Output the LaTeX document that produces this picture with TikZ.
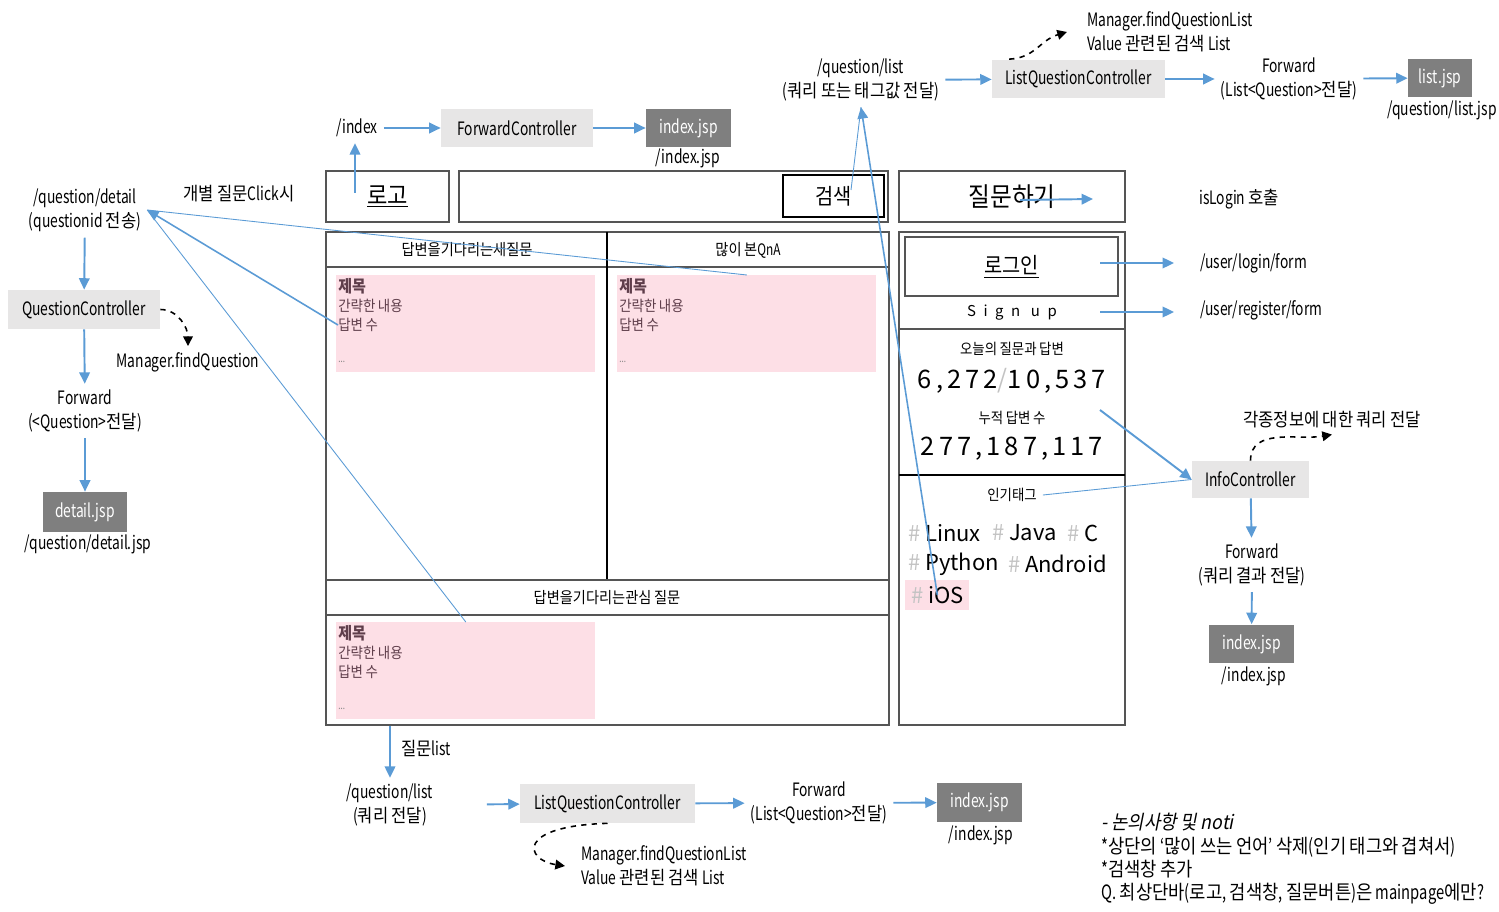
\documentclass[tikz,border=0pt]{standalone}
\usepackage{fontspec}
\setmainfont{Noto Sans CJK KR}[FakeStretch=0.75]
\newfontfamily\plainfont{Noto Sans CJK KR}
\newfontfamily\krfont{Noto Sans CJK KR}[FakeStretch=0.9]
\newfontfamily\notefont{Noto Sans CJK KR}[FakeStretch=0.9,FakeSlant=0.2]
\usetikzlibrary{arrows.meta,positioning,calc}

% Hangul is set a little wider than the Latin text
\XeTeXinterchartokenstate=1
\newXeTeXintercharclass\krclass
\newcount\krcode
\krcode="AC00
\loop\ifnum\krcode<"D7A4
  \XeTeXcharclass\krcode=\krclass
  \advance\krcode by 1
\repeat
\XeTeXinterchartoks 0 \krclass = {\begingroup\krfont}
\XeTeXinterchartoks 4095 \krclass = {\begingroup\krfont}
\XeTeXinterchartoks \krclass 0 = {\endgroup}
\XeTeXinterchartoks \krclass 4095 = {\endgroup}

\definecolor{linkblue}{RGB}{91,155,213}
\definecolor{ctrlgray}{RGB}{231,230,230}
\definecolor{jspgray}{RGB}{127,127,127}
\definecolor{cardpink}{RGB}{253,223,230}
\definecolor{cardtext}{RGB}{95,62,75}
\definecolor{framegray}{RGB}{85,85,85}
\definecolor{hashgray}{RGB}{195,195,195}

\tikzset{
  blue arrow/.style={linkblue, line width=1.1pt, -{Triangle[length=6.5pt,width=6pt]}},
  blue line/.style={linkblue, line width=0.5pt},
  call arrow/.style={black, line width=0.9pt, dashed, -{Triangle[length=5.5pt,width=5.5pt]}},
  ctrlbox/.style={fill=ctrlgray, inner sep=0pt, minimum height=0.78cm},
  jspbox/.style={fill=jspgray, text=white, inner sep=0pt, minimum width=1.7cm, minimum height=0.78cm},
  wire/.style={draw=framegray, line width=0.8pt, inner sep=0pt},
  twoline/.style={align=center, font=\fontsize{10.5}{13.5}\selectfont},
  card/.style={fill=cardpink, inner sep=0pt, minimum width=5.18cm, minimum height=1.94cm},
  cardline/.style={anchor=west, inner sep=0pt, text=cardtext, font=\fontsize{8.5}{10}\selectfont},
  head/.style={font=\fontsize{9}{10}\selectfont},
  small/.style={font=\fontsize{8.5}{10}\selectfont},
  tag/.style={anchor=west, inner sep=1pt, font=\plainfont\fontsize{12.5}{14}\selectfont},
  count/.style={font=\plainfont\fontsize{14.5}{16}\selectfont\addfontfeature{LetterSpace=16}},
}

\begin{document}
\begin{tikzpicture}[x=0.02cm, y=-0.02cm, font=\fontsize{10.5}{12.5}\selectfont]
\useasboundingbox (0,0) rectangle (1499,912);

% top bar of the page
\node[wire, minimum width=2.46cm, minimum height=1.02cm, font=\fontsize{14}{16}\selectfont] (logo) at (387.5,196.5) {\underline{로고}};
\node[wire, minimum width=8.58cm, minimum height=1.02cm] (searchbar) at (673.5,196.5) {};
\node[wire, draw=black, minimum width=2.02cm, minimum height=0.84cm, font=\fontsize{12.5}{14}\selectfont] (search) at (833.5,196) {검색};
\node[wire, minimum width=4.52cm, minimum height=1.02cm, font=\fontsize{15}{17}\selectfont] (ask) at (1012,196.5) {질문하기};

% question lists
\node[wire, minimum width=11.26cm, minimum height=9.86cm] (mainp) at (607.5,478.5) {};
\draw[framegray, line width=0.6pt] (326,267) -- (889,267);
\draw[black, line width=0.6pt] (607,232) -- (607,580);
\draw[framegray, line width=0.6pt] (326,580) -- (889,580);
\draw[framegray, line width=0.6pt] (326,615) -- (889,615);
\node[head] (newq) at (467,250) {답변을기다리는새질문};
\node[head] (topqna) at (748,250) {많이 본QnA};
\node[head] (interq) at (607,598) {답변을기다리는관심 질문};

\foreach \c/\x/\y in {card1/336/275, card2/617/275, card3/336/622}{
  \node[card, anchor=north west] (\c) at (\x,\y) {};
  \node[cardline, font=\bfseries\fontsize{9.5}{11}\selectfont] (\c-title) at (\x+2,\y+11) {제목};
  \node[cardline] (\c-text) at (\x+2,\y+31) {간략한 내용};
  \node[cardline] (\c-ans) at (\x+2,\y+50) {답변 수};
  \node[cardline, text=gray, font=\fontsize{6}{7}\selectfont] at (\x+2,\y+87) {...};
}

% side panel
\node[wire, minimum width=4.52cm, minimum height=9.86cm] (sidep) at (1012,478.5) {};
\node[wire, minimum width=4.26cm, minimum height=1.18cm, font=\fontsize{12.5}{15}\selectfont] (login) at (1011.5,266.5) {\underline{로그인}};
\node[font=\plainfont\fontsize{8.5}{10}\selectfont\addfontfeature{LetterSpace=50}] (signup) at (1012,313) {Sign up};
\draw[framegray, line width=0.6pt] (899,329) -- (1125,329);
\node[small] (today) at (1012,349) {오늘의 질문과 답변};
\node[count] (todaynum) at (1012,381) {6,272{\color{hashgray}/}10,537};
\node[small] (total) at (1012,418) {누적 답변 수};
\node[count] (totalnum) at (1012,449) {277,187,117};
\draw[black, line width=0.6pt] (899,475) -- (1125,475);
\node[small] (tagtitle) at (1012,495) {인기태그};
\node[tag] (taglinux) at (906,533) {\textcolor{hashgray}{\#} Linux};
\node[tag] (tagjava) at (990,533) {\textcolor{hashgray}{\#} Java};
\node[tag] (tagc) at (1065,533) {\textcolor{hashgray}{\#} C};
\node[tag] (tagpython) at (906,564) {\textcolor{hashgray}{\#} Python};
\node[tag] (tagandroid) at (1006,564) {\textcolor{hashgray}{\#} Android};
\node[tag, fill=cardpink, minimum width=1.28cm, minimum height=0.62cm, anchor=west] (tagios) at (905,595) {\textcolor{hashgray}{\#} iOS\hspace{4pt}};

% main page flow
\node (index) at (357,128) {/index};
\node[ctrlbox, minimum width=3.04cm] (fwdctrl) at (517,128) {ForwardController};
\node[jspbox] (indexjsp) at (688.5,128) {index.jsp};
\node (indexpath) at (688,158) {/index.jsp};
\coordinate (logoclick) at (355,193);
\draw[blue arrow] (logoclick) -- (logoclick |- index.south);
\draw[blue arrow] (index) -- (fwdctrl);
\draw[blue arrow] (fwdctrl) -- (indexjsp);

% search / tag flow
\node[twoline] (qlist) at (861,80) {/question/list\\(쿼리 또는 태그값 전달)};
\node[ctrlbox, minimum width=3.46cm] (lqctrl) at (1078.5,79) {ListQuestionController};
\node[twoline] (fwdlist) at (1289,79) {Forward\\(List<Question>전달)};
\node[jspbox, minimum width=1.28cm] (listjsp) at (1440,78) {list.jsp};
\node (listpath) at (1442,110) {/question/list.jsp};
\node[twoline, align=left, anchor=west] (findlist) at (1081,32) {Manager.findQuestionList\\Value 관련된 검색 List};
\coordinate (searchclick) at (851,190);
\draw[blue line] (searchclick) -- (qlist.south);
\draw[blue arrow, line width=0.9pt] (tagios.center) -- (qlist.south);
\draw[blue arrow] (qlist) -- (lqctrl);
\draw[blue arrow] (lqctrl) -- (fwdlist);
\draw[blue arrow] (fwdlist) -- (listjsp);
\draw[call arrow] ([xshift=0.35cm]lqctrl.north west) .. controls (1035,58) and (1040,40) .. ([xshift=-0.28cm]findlist.west);

% detail flow
\node[twoline] (qdetail) at (85,210) {/question/detail\\(questionid 전송)};
\node (clickeach) at (239,194) {개별 질문Click시};
\node[ctrlbox, minimum width=3.04cm] (qctrl) at (84,309.5) {QuestionController};
\node (findq) at (188,362) {Manager.findQuestion};
\node[twoline] (fwdq) at (85,411) {Forward\\(<Question>전달)};
\node[jspbox, minimum width=1.68cm, minimum height=0.8cm] (detailjsp) at (85,512) {detail.jsp};
\node (detailpath) at (88,544) {/question/detail.jsp};
\draw[blue line] (card2.north) -- (qdetail.east);
\draw[blue line] (card3.north) -- (qdetail.east);
\draw[blue arrow, line width=0.9pt] (card1-ans.west) -- (qdetail.east);
\draw[blue arrow] (qdetail) -- (qctrl);
\draw[blue arrow] (qctrl) -- (fwdq);
\draw[blue arrow] (fwdq) -- (detailjsp);
\draw[call arrow] (qctrl.east) to[out=0,in=90] (findq.north);

% login and ask
\coordinate (askout) at (1020,200);
\coordinate (loginout) at (1100,263);
\coordinate (signupout) at (1100,312);
\node[anchor=west] (islogin) at (1193,199) {isLogin 호출};
\node[anchor=west] (loginurl) at (1194,263) {/user/login/form};
\node[anchor=west] (regurl) at (1194,310) {/user/register/form};
\draw[blue arrow] (askout) -- ([xshift=-2cm]islogin.west);
\draw[blue arrow] (loginout) -- ([xshift=-0.4cm]loginurl.west);
\draw[blue arrow] (signupout) -- ([xshift=-0.4cm]regurl.west |- signupout);

% info flow
\node[ctrlbox, minimum width=2.34cm, minimum height=0.74cm] (infoctrl) at (1250.5,479.5) {InfoController};
\node (infoquery) at (1332,420) {각종정보에 대한 쿼리 전달};
\node[twoline] (fwdinfo) at (1252,565) {Forward\\(쿼리 결과 전달)};
\node[jspbox] (infojsp) at (1251.5,644) {index.jsp};
\node (infopath) at (1254,676) {/index.jsp};
\coordinate (statsout) at (1100,410);
\draw[blue arrow] (statsout) -- (infoctrl.west);
\draw[blue line] (tagtitle.east) -- (infoctrl.west);
\draw[call arrow] (infoctrl.north) to[out=90,in=190] (infoquery.south);
\draw[blue arrow] (infoctrl) -- (fwdinfo);
\draw[blue arrow] (fwdinfo) -- (infojsp);

% list flow at the bottom
\node[twoline] (qlistb) at (390,805) {/question/list\\(쿼리 전달)};
\node (qlistlbl) at (426,748) {질문list};
\node[ctrlbox, minimum width=3.5cm] (lqctrlb) at (607.5,803.5) {ListQuestionController};
\node[twoline] (fwdlistb) at (819,803) {Forward\\(List<Question>전달)};
\node[jspbox] (listjspb) at (979.5,802.5) {index.jsp};
\node (listpathb) at (981,835) {/index.jsp};
\node[twoline, align=left, anchor=west] (findlistb) at (575,866) {Manager.findQuestionList\\Value 관련된 검색 List};
\draw[blue arrow] (mainp.south -| qlistb) -- (qlistb.north);
\draw[blue arrow, shorten <=0.95cm] (qlistb) -- (lqctrlb);
\draw[blue arrow] (lqctrlb) -- (fwdlistb);
\draw[blue arrow] (fwdlistb) -- (listjspb);
\draw[call arrow] (lqctrlb.south) .. controls (515,826) and (525,860) .. ([xshift=-0.2cm]findlistb.west);

% notes
\node[anchor=north west, align=left, inner sep=0pt, font=\fontsize{11.2}{13.3}\selectfont] (notes) at (1101,813)
  {{\XeTeXinterchartokenstate=0 \notefont - 논의사항 및 noti}\\{*}상단의 ‘많이 쓰는 언어’ 삭제(인기 태그와 겹쳐서)\\{*}검색창 추가\\Q. 최상단바(로고, 검색창, 질문버튼)은 mainpage에만?};
\end{tikzpicture}
\end{document}
